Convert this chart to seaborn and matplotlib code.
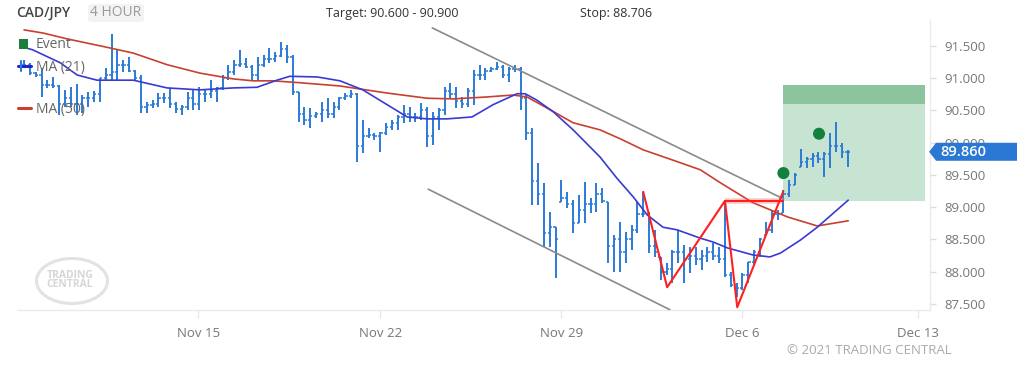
import numpy as np
import matplotlib
matplotlib.use("Agg")
import matplotlib.pyplot as plt
import seaborn as sns
from matplotlib.patches import Rectangle, Polygon, Ellipse, FancyBboxPatch
from matplotlib.lines import Line2D

# ---------- Data: CAD/JPY 4h bars ----------
bar_high = [
    91.28, 91.24, 91.10, 91.16, 90.97, 91.02, 90.90, 90.82, 90.86, 90.91,
    90.74, 90.79, 90.80, 91.00, 91.16, 91.69, 91.44, 91.28, 91.33, 91.13,
    91.05, 90.63, 90.66, 90.77, 90.77, 90.85, 90.63, 90.59, 90.79, 90.82,
    90.86, 90.82, 90.97, 90.86, 91.05, 91.21, 91.28, 91.44, 91.31, 91.21,
    91.33, 91.36, 91.47, 91.41, 91.56, 91.52, 91.36, 90.79, 90.55, 90.54,
    90.48, 90.63, 90.69, 90.63, 90.71, 90.77, 90.82, 90.77, 90.35, 90.23,
    90.15, 90.17, 90.31, 90.35, 90.43, 90.59, 90.55, 90.46, 90.62, 90.55,
    90.48, 90.54, 90.86, 90.93, 90.86, 90.71, 90.85, 91.13, 91.21, 91.16,
    91.17, 91.25, 91.21, 91.17, 91.21, 91.17, 90.74, 90.23, 89.69, 89.38,
    88.93, 88.69, 89.42, 89.24, 89.11, 89.19, 89.39, 89.14, 89.38, 89.30,
    89.08, 88.57, 88.77, 88.62, 88.72, 89.08, 89.24, 88.93, 88.65, 88.23,
    88.14, 88.34, 88.65, 88.41, 88.38, 88.38, 88.34, 88.38, 88.45, 88.38,
    89.08, 87.99, 87.83, 87.98, 88.15, 88.34, 88.52, 88.77, 88.96, 88.96,
    89.27, 89.42, 89.53, 89.90, 89.78, 89.84, 89.86, 89.86, 90.15, 90.32,
    90.00, 89.89,
]
bar_low = [
    91.17, 91.05, 91.02, 90.71, 90.85, 90.85, 90.43, 90.55, 90.55, 90.43,
    90.46, 90.55, 90.63, 90.63, 90.97, 90.97, 90.97, 91.10, 91.10, 90.97,
    90.46, 90.46, 90.54, 90.55, 90.62, 90.54, 90.46, 90.43, 90.51, 90.51,
    90.51, 90.63, 90.69, 90.63, 90.82, 90.97, 91.05, 91.17, 91.16, 90.97,
    90.97, 91.17, 91.24, 91.25, 91.33, 91.24, 90.74, 90.32, 90.28, 90.23,
    90.38, 90.32, 90.38, 90.38, 90.51, 90.66, 90.69, 89.70, 89.84, 90.07,
    90.04, 89.86, 90.12, 90.20, 90.20, 90.31, 90.32, 90.32, 90.35, 89.93,
    89.97, 90.20, 90.43, 90.69, 90.54, 90.54, 90.55, 90.59, 90.97, 90.97,
    91.10, 91.13, 91.00, 90.94, 91.10, 90.51, 90.04, 89.03, 89.03, 88.38,
    88.38, 87.90, 89.08, 88.99, 88.60, 88.76, 88.76, 88.91, 88.93, 89.07,
    88.14, 87.99, 87.99, 88.14, 88.34, 88.60, 88.85, 88.29, 88.23, 87.87,
    87.95, 87.83, 88.14, 87.83, 87.98, 88.10, 88.03, 88.15, 88.18, 88.14,
    87.92, 87.76, 87.61, 87.72, 87.83, 88.10, 88.23, 88.57, 88.60, 88.80,
    88.91, 89.16, 89.34, 89.62, 89.61, 89.62, 89.69, 89.47, 89.61, 89.86,
    89.76, 89.62,
]
bar_close = [
    91.20, 91.08, 91.05, 90.90, 90.90, 90.88, 90.60, 90.70, 90.60, 90.60,
    90.70, 90.70, 90.75, 91.00, 91.05, 91.10, 91.20, 91.20, 91.12, 91.00,
    90.55, 90.58, 90.60, 90.70, 90.70, 90.60, 90.52, 90.55, 90.70, 90.60,
    90.75, 90.75, 90.80, 90.85, 91.00, 91.10, 91.20, 91.22, 91.18, 91.05,
    91.20, 91.30, 91.30, 91.35, 91.45, 91.33, 90.78, 90.45, 90.35, 90.42,
    90.45, 90.50, 90.45, 90.55, 90.70, 90.72, 90.75, 89.95, 90.10, 90.12,
    90.10, 90.15, 90.25, 90.30, 90.40, 90.45, 90.40, 90.40, 90.50, 90.10,
    90.40, 90.50, 90.80, 90.75, 90.65, 90.60, 90.80, 91.05, 91.05, 91.12,
    91.15, 91.18, 91.05, 91.15, 91.15, 90.70, 90.15, 89.40, 89.20, 88.60,
    88.70, 88.50, 89.15, 89.05, 88.75, 88.95, 89.05, 89.05, 89.20, 89.10,
    88.40, 88.50, 88.30, 88.50, 88.65, 88.90, 88.90, 88.40, 88.30, 88.00,
    88.05, 88.30, 88.30, 88.20, 88.25, 88.20, 88.25, 88.30, 88.25, 88.20,
    87.95, 87.80, 87.75, 87.95, 88.15, 88.30, 88.50, 88.65, 88.90, 88.90,
    89.20, 89.35, 89.50, 89.70, 89.75, 89.80, 89.75, 89.82, 89.95, 89.95,
    89.85, 89.86,
]

# moving averages, sampled along the bar index
ma21_pos = [0, 1.5, 6.2, 9.1, 12.5, 18.7, 24.5, 30.1, 35.8, 39.9, 43.3, 45.5, 50.2, 54.1,
            58.0, 65.6, 69.0, 72.4, 76.7, 80.3, 84.4, 85.8, 87.8, 90.6, 94.0, 98.6, 101.5,
            104.3, 106.7, 109.4, 111.8, 115.8, 118.0, 120.4, 124.8, 127.7, 129.5, 132.9,
            135.8, 141.1]
ma21 = [91.48, 91.44, 91.24, 91.05, 90.97, 90.97, 90.85, 90.82, 90.85, 90.86, 90.97, 91.03,
        91.02, 90.96, 90.82, 90.40, 90.37, 90.37, 90.40, 90.59, 90.76, 90.76, 90.66, 90.48,
        90.20, 89.78, 89.45, 89.16, 88.88, 88.69, 88.65, 88.52, 88.46, 88.37, 88.26, 88.23,
        88.29, 88.49, 88.69, 89.11]
ma50_pos = [0, 3.3, 7.4, 14.7, 18.7, 24.5, 30.1, 35.8, 39.2, 42.6, 47.3, 54.1, 56.3, 62.2,
            69.0, 73.5, 79.3, 83.7, 86.1, 90.1, 94.0, 98.6, 102.1, 106.0, 111.1, 115.8,
            119.2, 124.8, 130.7, 135.8, 141.1]
ma50 = [91.75, 91.70, 91.61, 91.47, 91.39, 91.21, 91.08, 90.99, 90.96, 90.96, 90.93, 90.88,
        90.85, 90.77, 90.69, 90.68, 90.71, 90.74, 90.71, 90.51, 90.31, 90.20, 90.06, 89.89,
        89.73, 89.58, 89.38, 89.07, 88.85, 88.71, 88.79]

# drawn objects
channel_top_pos = [69.9, 130.0]
channel_top = [91.78, 89.13]
channel_bot_pos = [69.2, 110.6]
channel_bot = [89.28, 87.41]
pattern_pos = [106.0, 110.1, 120.0, 122.1, 130.0]
pattern = [89.24, 87.76, 89.10, 87.45, 89.25]
neck_pos = [120.0, 130.0]
neck = [89.10, 89.10]
event_pos = [130.0, 136.1]
event_price = [89.53, 90.14]

target_low, target_high = 90.600, 90.900
stop = 88.706
zone_start, zone_end, zone_floor = 130.0, 154.3, 89.10
last_price = 89.860

date_pos = [29.8, 61.0, 92.0, 122.9, 153.1]
date_labels = ["Nov 15", "Nov 22", "Nov 29", "Dec 6", "Dec 13"]
price_ticks = [87.5, 88.0, 88.5, 89.0, 89.5, 90.0, 90.5, 91.0, 91.5]

# ---------- Plot ----------
sns.set_theme(style="white")
plt.rcParams["font.family"] = ["Open Sans", "DejaVu Sans"]

BLUE = "#2b7bd6"
MA21_C = "#3a3ad2"
MA50_C = "#c8402f"
GRAY_TXT = "#777777"

W, H = 1017, 370
fig = plt.figure(figsize=(W / 100, H / 100), dpi=100)
ax = fig.add_axes([18 / W, 1 - 310 / H, (930 - 18) / W, (310 - 20) / H])
ax.set_xlim(-1.03, 155.1)
ax.set_ylim(87.407, 91.903)

# target zone
ax.add_patch(Rectangle((zone_start, zone_floor), zone_end - zone_start, target_low - zone_floor,
                       facecolor="#c6e4d1", edgecolor="none", zorder=0))
ax.add_patch(Rectangle((zone_start, target_low), zone_end - zone_start, target_high - target_low,
                       facecolor="#8cc49e", edgecolor="none", zorder=0))

# OHLC bars
idx = np.arange(len(bar_high))
hi = np.array(bar_high)
lo = np.array(bar_low)
cl = np.array(bar_close)
op = np.clip(np.r_[cl[0], cl[:-1]], lo, hi)
ax.vlines(idx, lo, hi, color=BLUE, lw=1.4, zorder=2)
ax.hlines(op, idx - 0.38, idx, color=BLUE, lw=1.1, zorder=2)
ax.hlines(cl, idx, idx + 0.38, color=BLUE, lw=1.1, zorder=2)

# moving averages
sns.lineplot(x=ma50_pos, y=ma50, color=MA50_C, lw=1.2, estimator=None, sort=False, ax=ax, zorder=3)
sns.lineplot(x=ma21_pos, y=ma21, color=MA21_C, lw=1.2, estimator=None, sort=False, ax=ax, zorder=3)

# channel
sns.lineplot(x=channel_top_pos, y=channel_top, color="#8a8a8a", lw=1.2, estimator=None, ax=ax, zorder=3)
sns.lineplot(x=channel_bot_pos, y=channel_bot, color="#8a8a8a", lw=1.2, estimator=None, ax=ax, zorder=3)

# double bottom pattern
ax.plot(neck_pos, neck, color="#ff6b6b", lw=4, alpha=0.35, zorder=4, solid_capstyle="butt")
sns.lineplot(x=neck_pos, y=neck, color="#ff1f1f", lw=1.5, estimator=None, ax=ax, zorder=4)
sns.lineplot(x=pattern_pos, y=pattern, color="#ff1f1f", lw=1.5, estimator=None, sort=False, ax=ax, zorder=4)

# events
sns.scatterplot(x=event_pos, y=event_price, color="#13803f", s=75, edgecolor="none", ax=ax, zorder=5)

# axes styling
ax.set_xlabel("")
ax.set_ylabel("")
ax.set_xticks(date_pos)
ax.set_xticklabels(date_labels)
ax.yaxis.tick_right()
ax.set_yticks(price_ticks)
ax.set_yticklabels([f"{v:.3f}" for v in price_ticks])
ax.tick_params(axis="y", length=4, width=1, color="#dddddd", labelcolor=GRAY_TXT,
               labelsize=9.5, pad=6, left=False, right=True)
ax.tick_params(axis="x", length=6, width=1, color="#e6e6e6", labelcolor=GRAY_TXT,
               labelsize=9.5, pad=6, bottom=True)
for side in ["top", "left"]:
    ax.spines[side].set_visible(False)
for side in ["bottom", "right"]:
    ax.spines[side].set_color("#ebebeb")
    ax.spines[side].set_linewidth(1)
ax.grid(False)

# last price tag (sits over the 90.000 label, as in the original)
tr = ax.get_yaxis_transform()
h = 9 / 64.5
ax.add_patch(Polygon([(0.999, last_price), (1.0066, last_price + h), (1.10, last_price + h),
                      (1.10, last_price - h), (1.0066, last_price - h)],
                     closed=True, transform=tr, facecolor="#2b78d4", edgecolor="none",
                     clip_on=False, zorder=6))
ax.text(1.0115, last_price, f"{last_price:.3f}", transform=tr, color="white",
        fontsize=10.5, fontweight="semibold", ha="left", va="center", zorder=7)


def fx(px):
    return px / W


def fy(py):
    return 1 - py / H


# header
fig.text(fx(16), fy(13), "CAD/JPY", color="#444444", fontsize=10, fontweight="semibold",
         ha="left", va="center")
fig.patches.append(FancyBboxPatch((fx(88), fy(22)), fx(56), 18 / H,
                                  boxstyle="round,pad=0,rounding_size=0.006",
                                  transform=fig.transFigure, facecolor="#f3f3f3",
                                  edgecolor="none"))
fig.text(fx(90), fy(13), "4 HOUR", color="#9a9a9a", fontsize=10, ha="left", va="center")
fig.text(fx(326), fy(13), "Target: 90.600 - 90.900", color="#333333", fontsize=9,
         ha="left", va="center")
fig.text(fx(580), fy(13), f"Stop: {stop:.3f}", color="#333333", fontsize=9,
         ha="left", va="center")

# legend
fig.patches.append(Rectangle((fx(19), fy(49)), fx(9), 10 / H, transform=fig.transFigure,
                             facecolor="#1a7f3e", edgecolor="none", zorder=8))
fig.text(fx(36), fy(44), "Event", color="#666666", fontsize=10, ha="left", va="center", zorder=8)
fig.lines.append(Line2D([fx(18), fx(31)], [fy(66), fy(66)], transform=fig.transFigure,
                        color="#2222cc", lw=2.2, zorder=8))
fig.lines.append(Line2D([fx(21), fx(21)], [fy(61), fy(71)], transform=fig.transFigure,
                        color="#2b7bd6", lw=1.5, zorder=8))
fig.text(fx(36), fy(67), "MA (21)", color="#666666", fontsize=10, ha="left", va="center", zorder=8)
fig.lines.append(Line2D([fx(18), fx(31)], [fy(108), fy(108)], transform=fig.transFigure,
                        color="#c8402f", lw=2.2, zorder=8))
fig.text(fx(36), fy(109), "MA (50)", color="#666666", fontsize=10, ha="left", va="center", zorder=8)

# watermark
fig.patches.append(Ellipse((fx(72), fy(281)), fx(71), 45 / H, transform=fig.transFigure,
                           facecolor="none", edgecolor="#e2e2e2", lw=2.2))
fig.text(fx(70), fy(280), "TRADING\nCENTRAL", color="#d6d6d6", fontsize=7.5, fontweight="bold",
         ha="center", va="center", linespacing=0.85)

# footer
fig.text(fx(952), fy(350), "\u00a9 2021 TRADING CENTRAL", color="#aaaaaa", fontsize=9.5,
         ha="right", va="center")

fig.savefig("out.png", dpi=100, facecolor="white")
